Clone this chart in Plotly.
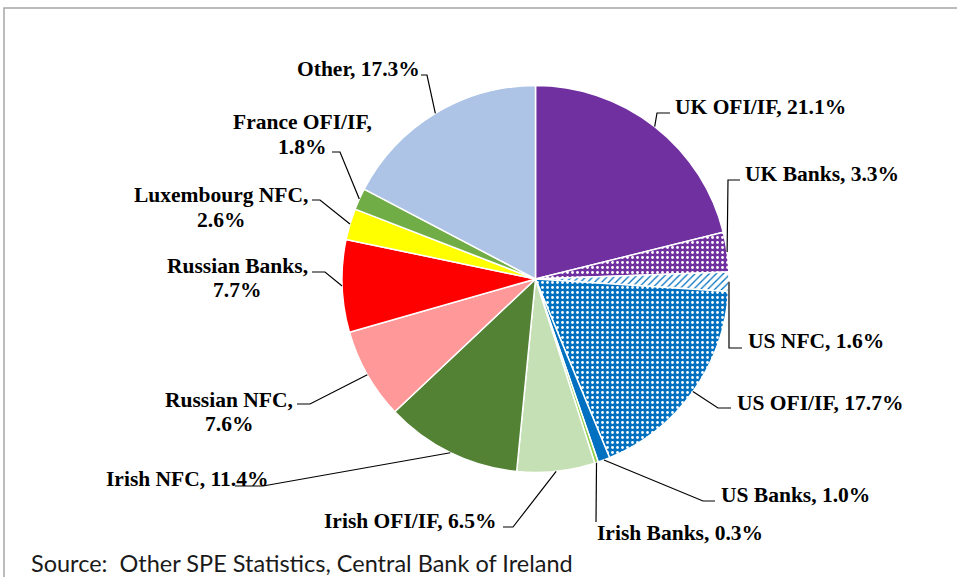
import math
import plotly.graph_objects as go

W, H = 957, 577
CX, CY, R = 535.5, 279, 193.5

slices = [
    # label, share, colour, pattern shape, pattern fg, pattern bg
    ("UK OFI/IF", 21.1, "#7030A0", "", None, None),
    ("UK Banks", 3.3, "#7030A0", ".", "#FFFFFF", "#7030A0"),
    ("US NFC", 1.6, "#0070C0", "/", "#0070C0", "#FFFFFF"),
    ("US OFI/IF", 17.7, "#0070C0", ".", "#FFFFFF", "#0070C0"),
    ("US Banks", 1.0, "#0070C0", "", None, None),
    ("Irish Banks", 0.3, "#92D050", "", None, None),
    ("Irish OFI/IF", 6.5, "#C5E0B4", "", None, None),
    ("Irish NFC", 11.4, "#548235", "", None, None),
    ("Russian NFC", 7.6, "#FF9999", "", None, None),
    ("Russian Banks", 7.7, "#FF0000", "", None, None),
    ("Luxembourg NFC", 2.6, "#FFFF00", "", None, None),
    ("France OFI/IF", 1.8, "#70AD47", "", None, None),
    ("Other", 17.3, "#ADC4E6", "", None, None),
]

# label placement in pixels: lines, x, y of first line, xanchor, leader elbow, leader end
labels = {
    "UK OFI/IF": (["UK OFI/IF, 21.1%"], 673, 107, "left", (657, 113), (670, 113)),
    "UK Banks": (["UK Banks, 3.3%"], 743, 174, "left", (728, 180), (740, 180)),
    "US NFC": (["US NFC, 1.6%"], 746, 341, "left", (729, 348), (742, 348)),
    "US OFI/IF": (["US OFI/IF, 17.7%"], 735, 403, "left", (718, 408), (731, 408)),
    "US Banks": (["US Banks, 1.0%"], 719, 495, "left", (703, 501), (715, 501)),
    "Irish Banks": (["Irish Banks, 0.3%"], 595, 533, "left", (596, 522), (596, 522)),
    "Irish OFI/IF": (["Irish OFI/IF, 6.5%"], 498, 521, "right", (513, 527), (503, 527)),
    "Irish NFC": (["Irish NFC, 11.4%"], 104, 479, "left", (263, 486), (235, 486)),
    "Russian NFC": (["Russian NFC,", "7.6%"], 228.5, 399.5, "center", (310, 404), (297, 404)),
    "Russian Banks": (["Russian Banks,", "7.7%"], 237, 265.5, "center", (325, 272), (312, 272)),
    "Luxembourg NFC": (["Luxembourg NFC,", "2.6%"], 220.5, 195, "center", (320, 200), (312, 200)),
    "France OFI/IF": (["France OFI/IF,", "1.8%"], 302, 122.5, "center", (340, 152), (332, 152)),
    "Other": (["Other, 17.3%"], 422, 69, "right", (427, 75), (421, 75)),
}


def px(x):
    return x / W


def py(y):
    return 1 - y / H


def pie_chart():
    names = [s[0] for s in slices]
    values = [s[1] for s in slices]

    fig = go.Figure()
    fig.add_trace(
        go.Pie(
            labels=names,
            values=values,
            sort=False,
            direction="clockwise",
            textinfo="none",
            hoverinfo="label+percent",
            domain=dict(
                x=[px(CX - R), px(CX + R)],
                y=[py(CY + R), py(CY - R)]
            ),
            marker=dict(
                colors=[s[2] for s in slices],
                line=dict(color="white", width=1.5),
                pattern=dict(
                    shape=[s[3] for s in slices],
                    fgcolor=[s[4] or s[2] for s in slices],
                    bgcolor=[s[5] or s[2] for s in slices],
                    size=5,
                    solidity=0.25,
                    fillmode="replace"
                )
            ),
            showlegend=False
        )
    )

    total = sum(values)
    cum = 0
    shapes = []
    annotations = []
    for name, v in zip(names, values):
        mid = (cum + v / 2) / total * 2 * math.pi
        cum += v
        ex = CX + R * math.sin(mid)
        ey = CY - R * math.cos(mid)
        lines, lx, ly, anchor, elbow, end = labels[name]
        shapes.append(dict(
            type="path",
            xref="paper", yref="paper",
            path="M {} {} L {} {} L {} {}".format(
                px(ex), py(ey), px(elbow[0]), py(elbow[1]), px(end[0]), py(end[1])),
            line=dict(color="black", width=1.2)
        ))
        for i, t in enumerate(lines):
            annotations.append(dict(
                text=t,
                x=px(lx), y=py(ly + i * 24.5),
                xref="paper", yref="paper",
                xanchor=anchor, yanchor="middle",
                showarrow=False,
                font=dict(family="Liberation Serif", size=21.5, color="black", weight="bold")
            ))

    annotations.append(dict(
        text="Source:\u00a0 Other SPE Statistics, Central Bank of Ireland",
        x=px(29), y=py(563),
        xref="paper", yref="paper",
        xanchor="left", yanchor="middle",
        showarrow=False,
        font=dict(family="Lato", size=23.5, color="#1a1a1a")
    ))

    # chart frame
    shapes.append(dict(
        type="rect",
        xref="paper", yref="paper",
        x0=px(4), y0=py(8), x1=1.05, y1=-0.05,
        line=dict(color="#A6A6A6", width=1.5)
    ))

    fig.update_layout(
        width=W,
        height=H,
        margin=dict(l=0, r=0, t=0, b=0),
        paper_bgcolor="white",
        plot_bgcolor="white",
        shapes=shapes,
        annotations=annotations
    )
    return fig


fig = pie_chart()
fig.write_html(
    "out.html",
    config={"displayModeBar": False},
    post_script="document.body.style.margin='0px';"
)
